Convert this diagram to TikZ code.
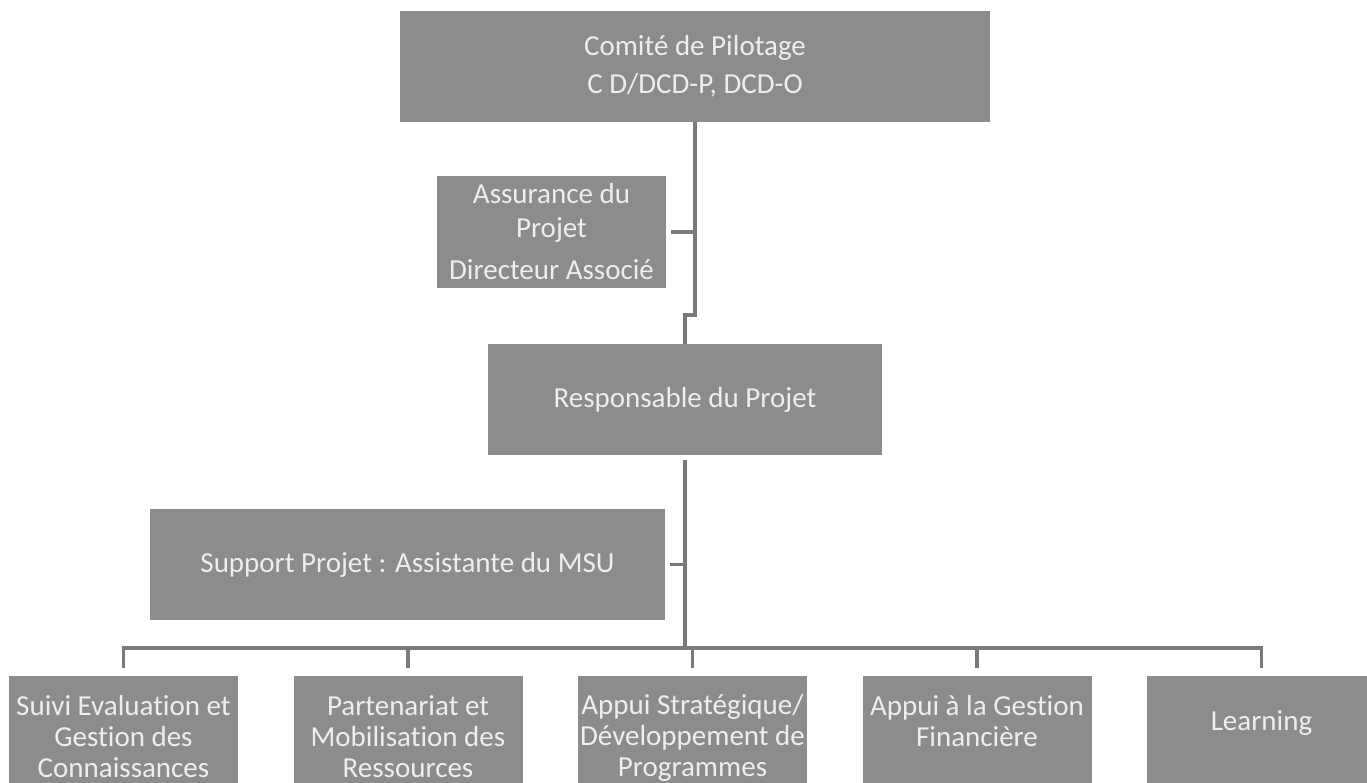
\documentclass[tikz,border=0pt]{standalone}
\usepackage{fontspec}
\setmainfont[Ligatures={NoCommon}]{Carlito}
\usepackage{xcolor}
\usepackage{tikz}
\usetikzlibrary{
    positioning,
    calc,
}
\definecolor{boxgray}{RGB}{140,140,140}
\definecolor{linegray}{RGB}{122,122,122}
\definecolor{boxtext}{RGB}{238,238,238}
\tikzset{
    % Box styles
    unit/.style={rectangle, fill=boxgray, inner sep=0pt, align=center,
                 text=boxtext, font=\fontsize{29}{34}\selectfont},
    head unit/.style={unit, minimum width=590pt, minimum height=111pt},
    side unit/.style={unit, minimum width=229pt, minimum height=112pt},
    lead unit/.style={unit, minimum width=394pt, minimum height=111pt},
    staff unit/.style={unit, minimum width=515pt, minimum height=111pt},
    % Connector styles
    conn/.style={draw=linegray, line width=3.5pt},
}

\begin{document}
\begin{tikzpicture}[
    x=1pt, y=-1pt,
    leaf/.style={unit, minimum width=229pt, minimum height=120pt, anchor=north},
    leaf text/.style={inner sep=0pt, align=center, text=boxtext,
                      font=\fontsize{29}{31}\selectfont},
]
    \useasboundingbox (0,0) rectangle (1367,783);
    \clip (0,0) rectangle (1367,783);

    % Steering committee
    \node[head unit] (comite) at (695, 66.5) {Comité de Pilotage\\[4pt]C D/DCD-P, DCD-O};

    % Project assurance
    \node[side unit] (assurance) at (551.5, 232) {Assurance du\\Projet\\[8pt]Directeur Associé};

    % Project lead
    \node[lead unit] (resp) at (685, 399.5) {Responsable du Projet};

    % Project support
    \node[staff unit] (support) at (407.5, 564.5) {Support Projet : Assistante du MSU};

    % Teams
    \node[leaf] (sub1) at (123.5, 676) {};
    \node[leaf] (sub2) at (408, 676) {};
    \node[leaf] (sub3) at (692.5, 676) {};
    \node[leaf] (sub4) at (977, 676) {};
    \node[leaf] (sub5) at (1261.5, 676) {};
    \node[leaf text, below=19pt of sub1.north] (sub1t) {Suivi Evaluation et\\Gestion des\\Connaissances};
    \node[leaf text, below=19pt of sub2.north] (sub2t) {Partenariat et\\Mobilisation des\\Ressources};
    \node[leaf text, below=18pt of sub3.north] (sub3t) {Appui Stratégique/\\Développement de\\Programmes};
    \node[leaf text, below=19pt of sub4.north] (sub4t) {Appui à la Gestion\\Financière};
    \node[leaf text, below=34pt of sub5.north] (sub5t) {Learning};

    % Connectors
    \draw[conn] (comite.south) -- ++(0,193) -| (resp.north);
    \draw[conn, shorten <=5pt] (assurance.east) -- (assurance.east -| comite.south);
    \draw[conn, shorten <=5pt] (resp.south) -- ++(0,193) coordinate (hub);
    \draw[conn, shorten <=5pt] (support.east) -- (support.east -| hub);
    \draw[conn, line cap=rect] (sub1.north |- hub) -- (sub5.north |- hub);
    \foreach \i in {1,...,5}
        \draw[conn, shorten >=8pt] (sub\i.north |- hub) -- (sub\i.north);
\end{tikzpicture}
\end{document}
